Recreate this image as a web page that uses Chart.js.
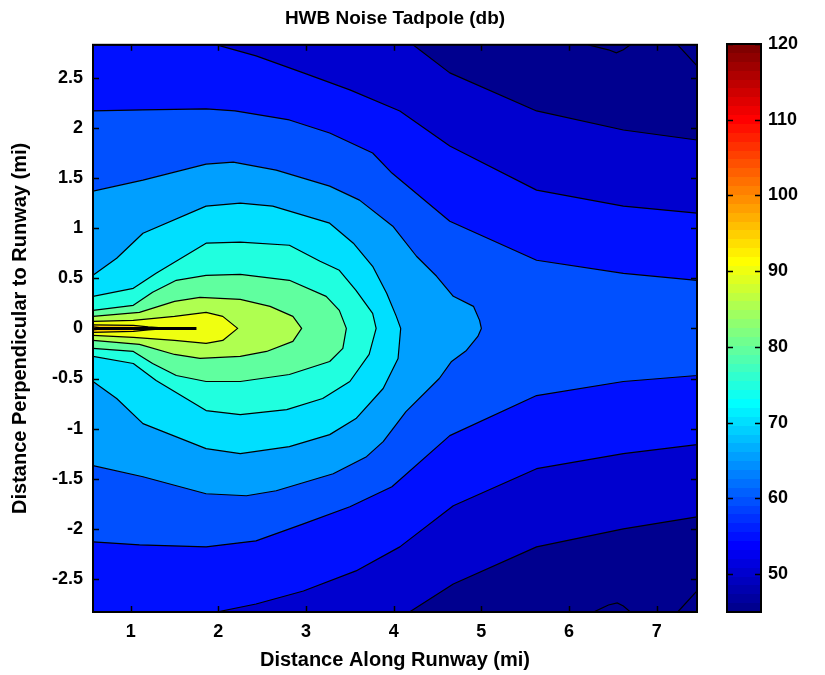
<!DOCTYPE html>
<html>
<head>
<meta charset="utf-8">
<title>HWB Noise Tadpole</title>
<script src="https://cdn.jsdelivr.net/npm/chart.js@4.4.1/dist/chart.umd.min.js"></script>
<style>
  html, body { margin: 0; padding: 0; background: #fff; }
  #wrap { position: relative; width: 825px; height: 675px; overflow: hidden; }
  #plot { position: absolute; left: 0; top: 0; }
  #cbar { position: absolute; left: 700px; top: 0; }
</style>
</head>
<body>
<div id="wrap">
  <canvas id="plot" width="715" height="675"></canvas>
  <canvas id="cbar" width="125" height="675"></canvas>
</div>
<script>
// plot extent and ticks
const xMin = 0.57, xMax = 7.46, yMin = -2.83, yMax = 2.83;
const xTicks = [1, 2, 3, 4, 5, 6, 7];
const yTicks = [-2.5, -2, -1.5, -1, -0.5, 0, 0.5, 1, 1.5, 2, 2.5];
const cbMin = 45, cbMax = 120;
const cbTicks = [50, 60, 70, 80, 90, 100, 110, 120];
const bgLevel = 45;

// contour lines, [x (mi), y (mi)]
// upper branch and lower branch of each level, left to right
const up50 = [[4.22, 2.83], [4.64, 2.55], [5.63, 2.17], [6.62, 1.98], [7.46, 1.88]];
const lo50 = [[4.18, -2.83], [4.68, -2.55], [5.63, -2.18], [6.62, -2.0], [7.46, -1.88]];
const up55 = [[1.98, 2.83], [2.43, 2.72], [2.97, 2.55], [3.50, 2.38], [4.07, 2.17], [4.64, 1.82], [5.63, 1.38], [6.62, 1.22], [7.46, 1.15]];
const lo55 = [[1.98, -2.83], [2.43, -2.75], [2.97, -2.62], [3.57, -2.42], [4.07, -2.18], [4.68, -1.77], [5.63, -1.40], [6.62, -1.25], [7.46, -1.16]];
const up60 = [[0.57, 2.17], [1.14, 2.18], [1.86, 2.19], [2.19, 2.17], [2.81, 2.08], [3.27, 1.95], [3.76, 1.75], [3.98, 1.55], [4.64, 1.07], [5.63, 0.68], [6.62, 0.55], [7.46, 0.48]];
const lo60 = [[0.57, -2.13], [1.10, -2.16], [1.86, -2.18], [2.43, -2.12], [2.97, -1.95], [3.50, -1.78], [3.98, -1.58], [4.64, -1.07], [5.63, -0.67], [6.62, -0.53], [7.46, -0.47]];
const up65 = [[0.57, 1.37], [1.14, 1.48], [1.86, 1.64], [2.17, 1.66], [2.66, 1.58], [3.27, 1.42], [3.61, 1.28], [3.99, 1.02], [4.26, 0.72], [4.49, 0.52], [4.68, 0.32], [4.91, 0.22], [4.98, 0.08], [5.0, 0]];
const lo65 = [[0.57, -1.37], [1.14, -1.48], [1.86, -1.65], [2.32, -1.67], [2.66, -1.62], [3.31, -1.45], [3.69, -1.28], [3.88, -1.13], [4.14, -0.83], [4.52, -0.50], [4.66, -0.33], [4.83, -0.22], [4.96, -0.08], [5.0, 0]];
const up70 = [[0.57, 0.53], [0.84, 0.70], [1.14, 0.95], [1.86, 1.22], [2.25, 1.25], [2.62, 1.22], [3.27, 1.05], [3.54, 0.85], [3.76, 0.62], [3.92, 0.35], [4.03, 0.12], [4.08, 0]];
const lo70 = [[0.57, -0.53], [0.84, -0.70], [1.14, -0.95], [1.86, -1.20], [2.25, -1.25], [2.81, -1.18], [3.27, -1.06], [3.57, -0.90], [3.88, -0.60], [4.05, -0.30], [4.08, 0]];
const up75 = [[0.57, 0.32], [1.03, 0.40], [1.29, 0.55], [1.86, 0.85], [2.25, 0.86], [2.81, 0.83], [3.16, 0.67], [3.38, 0.58], [3.57, 0.38], [3.76, 0.15], [3.80, 0]];
const lo75 = [[0.57, -0.28], [1.03, -0.35], [1.29, -0.52], [1.86, -0.82], [2.25, -0.86], [2.78, -0.81], [3.19, -0.70], [3.50, -0.53], [3.72, -0.26], [3.80, 0]];
const up80 = [[0.57, 0.18], [1.03, 0.23], [1.25, 0.36], [1.52, 0.48], [1.86, 0.53], [2.25, 0.54], [2.81, 0.48], [3.23, 0.32], [3.38, 0.18], [3.46, 0]];
const lo80 = [[0.57, -0.20], [1.03, -0.23], [1.25, -0.35], [1.52, -0.47], [1.86, -0.53], [2.25, -0.53], [2.81, -0.46], [3.27, -0.33], [3.42, -0.20], [3.46, 0]];
const up85 = [[0.57, 0.12], [1.10, 0.16], [1.50, 0.27], [1.79, 0.31], [2.25, 0.29], [2.59, 0.22], [2.85, 0.12], [2.95, 0]];
const lo85 = [[0.57, -0.12], [1.10, -0.16], [1.50, -0.26], [1.79, -0.30], [2.25, -0.28], [2.55, -0.23], [2.85, -0.13], [2.95, 0]];
const up90 = [[0.57, 0.07], [1.03, 0.08], [1.50, 0.12], [1.86, 0.16], [2.05, 0.12], [2.22, 0]];
const lo90 = [[0.57, -0.07], [1.03, -0.09], [1.50, -0.12], [1.86, -0.15], [2.05, -0.12], [2.22, 0]];
const up95 = [[0.57, 0.035], [1.03, 0.03], [1.20, 0.015], [1.44, 0]];
const lo95 = [[0.57, -0.04], [1.03, -0.03], [1.20, -0.015], [1.44, 0]];
const up100 = [[0.57, 0.015], [0.72, 0]];
const lo100 = [[0.57, -0.015], [0.72, 0]];

// collapsed lines along the runway axis and the small 45 dB pockets
const coreLine = [[0.60, 0], [1.75, 0]];
const pocketTop = [[6.22, 2.83], [6.45, 2.78], [6.54, 2.75], [6.62, 2.78], [6.70, 2.83]];
const pocketTopCorner = [[7.24, 2.83], [7.46, 2.62]];
const pocketBot = [[6.28, -2.83], [6.45, -2.76], [6.55, -2.74], [6.62, -2.77], [6.70, -2.83]];
const pocketBotCorner = [[7.24, -2.83], [7.46, -2.62]];

const contours = [
  [50, up50, lo50], [55, up55, lo55], [60, up60, lo60], [65, up65, lo65],
  [70, up70, lo70], [75, up75, lo75], [80, up80, lo80], [85, up85, lo85],
  [90, up90, lo90], [95, up95, lo95], [100, up100, lo100]
];

// MATLAB jet(64): row k (0 based) sits at f = (k + 1) / 64
function jet(f) {
  const c = v => Math.round(255 * Math.max(0, Math.min(1, v)));
  return `rgb(${c(1.5 - Math.abs(4 * f - 3))},${c(1.5 - Math.abs(4 * f - 2))},${c(1.5 - Math.abs(4 * f - 1))})`;
}
function jetRow(k) {
  return jet((k + 1) / 64);
}
function levelColor(v) {
  const k = Math.min(63, Math.max(0, Math.floor((v - cbMin) / (cbMax - cbMin) * 64)));
  return jetRow(k);
}

function pts(arr) {
  return arr.map(p => ({ x: p[0], y: p[1] }));
}

// region above a level: upper branch, then lower branch backwards
function region(upper, lower) {
  const ring = [];
  if (upper[0][1] >= yMax) ring.push([xMin, yMax]);
  upper.forEach(p => ring.push(p));
  lower.slice().reverse().forEach(p => ring.push(p));
  if (lower[0][1] <= yMin) ring.push([xMin, yMin]);
  return pts(ring);
}

const datasets = contours.map(([lvl, up, lo]) => ({
  label: lvl + ' dB',
  data: region(up, lo),
  showLine: true,
  fill: 'shape',
  backgroundColor: levelColor(lvl),
  borderColor: '#000',
  borderWidth: 1.2,
  borderJoinStyle: 'round',
  pointRadius: 0,
  order: 200 - lvl
}));

[pocketTop, pocketTopCorner, pocketBot, pocketBotCorner].forEach(arr => {
  datasets.push({
    data: pts(arr), showLine: true, fill: false, borderColor: '#000',
    borderWidth: 1.2, pointRadius: 0, order: 5
  });
});
datasets.push({
  data: pts(coreLine), showLine: true, fill: false, borderColor: '#000',
  borderWidth: 3, pointRadius: 0, order: 0
});

Chart.defaults.font.family = "'Liberation Sans', Arial, Helvetica, sans-serif";
Chart.defaults.color = '#000';

const areaBackground = {
  id: 'areaBackground',
  beforeDatasetsDraw(chart) {
    const { ctx, chartArea: a } = chart;
    ctx.save();
    ctx.fillStyle = levelColor(bgLevel);
    ctx.fillRect(a.left, a.top, a.right - a.left, a.bottom - a.top);
    ctx.restore();
  }
};

// axes box with inward tick marks on every side
const boxTicks = {
  id: 'boxTicks',
  afterDraw(chart) {
    const { ctx, chartArea: a } = chart;
    const len = 6;
    ctx.save();
    ctx.strokeStyle = '#000';
    ctx.lineWidth = 1.5;
    ctx.beginPath();
    Object.values(chart.scales).forEach(s => {
      if (!s.options.display) return;
      s.ticks.forEach(t => {
        const p = Math.round(s.getPixelForValue(t.value)) + 0.5;
        if (s.isHorizontal()) {
          ctx.moveTo(p, a.top); ctx.lineTo(p, a.top + len);
          ctx.moveTo(p, a.bottom); ctx.lineTo(p, a.bottom - len);
        } else {
          ctx.moveTo(a.left, p); ctx.lineTo(a.left + len, p);
          ctx.moveTo(a.right, p); ctx.lineTo(a.right - len, p);
        }
      });
    });
    ctx.stroke();
    ctx.lineWidth = 2;
    ctx.strokeRect(a.left, a.top, a.right - a.left, a.bottom - a.top);
    ctx.restore();
  }
};

new Chart(document.getElementById('plot'), {
  type: 'scatter',
  data: { datasets },
  options: {
    responsive: false,
    animation: false,
    layout: { padding: { left: 0, right: 18, top: 0, bottom: 0 } },
    plugins: {
      legend: { display: false },
      tooltip: { enabled: false },
      title: {
        display: true,
        fullSize: false, // centre over the axes, not the canvas
        text: 'HWB Noise Tadpole (db)',
        font: { size: 19, weight: 'bold' },
        color: '#000',
        padding: { top: 7, bottom: 15 }
      }
    },
    scales: {
      x: {
        type: 'linear', min: xMin, max: xMax,
        afterBuildTicks: s => { s.ticks = xTicks.map(v => ({ value: v })); },
        afterFit: s => { s.height = 63; },
        grid: { display: false, drawTicks: false },
        border: { display: false },
        ticks: { padding: 9, autoSkip: false, maxRotation: 0, font: { size: 18, weight: 'bold' }, callback: v => String(v) },
        title: { display: true, text: 'Distance Along Runway (mi)', font: { size: 20, weight: 'bold' }, padding: { top: 0, bottom: 3 } }
      },
      y: {
        type: 'linear', min: yMin, max: yMax,
        afterBuildTicks: s => { s.ticks = yTicks.map(v => ({ value: v })); },
        afterFit: s => { s.width = 93; },
        grid: { display: false, drawTicks: false },
        border: { display: false },
        ticks: { padding: 10, autoSkip: false, font: { size: 18, weight: 'bold' }, callback: v => String(v) },
        title: { display: true, text: 'Distance Perpendicular to Runway (mi)', font: { size: 20, weight: 'bold' }, padding: { top: 8, bottom: 0 } }
      }
    }
  },
  plugins: [areaBackground, boxTicks]
});

// colour bar
function barGradient(chart) {
  const y = chart.scales.y;
  if (!chart.chartArea || !y) return levelColor(cbMin);
  const g = chart.ctx.createLinearGradient(0, y.getPixelForValue(cbMin), 0, y.getPixelForValue(cbMax));
  for (let k = 0; k < 64; k++) {
    g.addColorStop(k / 64, jetRow(k));
    g.addColorStop((k + 1) / 64, jetRow(k));
  }
  return g;
}

new Chart(document.getElementById('cbar'), {
  type: 'bar',
  data: {
    labels: ['dB'],
    datasets: [{
      data: [[cbMin, cbMax]],
      backgroundColor: ctx => barGradient(ctx.chart),
      borderWidth: 0,
      barPercentage: 1,
      categoryPercentage: 1
    }]
  },
  options: {
    responsive: false,
    animation: false,
    layout: { padding: { left: 27, right: 0, top: 44, bottom: 63 } },
    plugins: { legend: { display: false }, tooltip: { enabled: false } },
    scales: {
      x: { display: false },
      y: {
        position: 'right', min: cbMin, max: cbMax,
        afterBuildTicks: s => { s.ticks = cbTicks.map(v => ({ value: v })); },
        afterFit: s => { s.width = 64; },
        grid: { display: false, drawTicks: false },
        border: { display: false },
        ticks: { padding: 7, font: { size: 18, weight: 'bold' }, callback: v => String(v) }
      }
    }
  },
  plugins: [boxTicks]
});
</script>
</body>
</html>
